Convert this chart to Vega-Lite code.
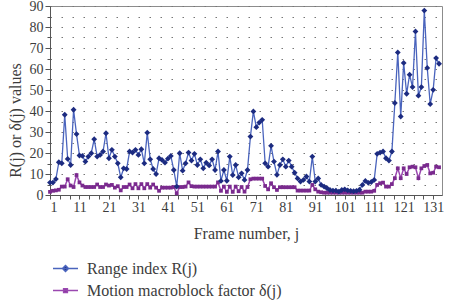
{
  "$schema": "https://vega.github.io/schema/vega-lite/v6.json",
  "width": 392,
  "height": 189,
  "autosize": {"type": "none"},
  "padding": {"left": 50, "top": 6, "right": 11, "bottom": 109},
  "background": "white",
  "config": {
    "font": "Liberation Serif",
    "view": {"stroke": "#8c8c8c", "strokeWidth": 1},
    "axis": {
      "labelFont": "Liberation Serif",
      "titleFont": "Liberation Serif",
      "labelColor": "#3c3c3c",
      "titleColor": "#3c3c3c",
      "domainColor": "#555555",
      "tickColor": "#555555",
      "labelFontSize": 14,
      "titleFontSize": 16,
      "titleFontWeight": "normal",
      "labelOverlap": false
    }
  },
  "data": {
    "values": [
      {"j": 1, "R": 5.9, "d": 1.5}, {"j": 2, "R": 5.9, "d": 2.0}, {"j": 3, "R": 7.6, "d": 2.2},
      {"j": 4, "R": 15.6, "d": 2.5}, {"j": 5, "R": 15.1, "d": 4.0}, {"j": 6, "R": 38.2, "d": 4.0},
      {"j": 7, "R": 17.2, "d": 7.5}, {"j": 8, "R": 14.3, "d": 4.5}, {"j": 9, "R": 40.6, "d": 3.8},
      {"j": 10, "R": 29.0, "d": 9.5}, {"j": 11, "R": 18.8, "d": 6.0}, {"j": 12, "R": 18.6, "d": 4.5},
      {"j": 13, "R": 15.9, "d": 3.8}, {"j": 14, "R": 18.3, "d": 3.8}, {"j": 15, "R": 19.9, "d": 3.8},
      {"j": 16, "R": 26.6, "d": 3.8}, {"j": 17, "R": 18.3, "d": 5.0}, {"j": 18, "R": 19.1, "d": 3.8},
      {"j": 19, "R": 20.7, "d": 3.8}, {"j": 20, "R": 29.4, "d": 5.0}, {"j": 21, "R": 17.5, "d": 4.5},
      {"j": 22, "R": 21.5, "d": 4.8}, {"j": 23, "R": 18.3, "d": 3.5}, {"j": 24, "R": 15.1, "d": 4.2},
      {"j": 25, "R": 8.4, "d": 2.2}, {"j": 26, "R": 12.7, "d": 3.8}, {"j": 27, "R": 12.4, "d": 3.8},
      {"j": 28, "R": 20.7, "d": 5.0}, {"j": 29, "R": 20.2, "d": 3.2}, {"j": 30, "R": 21.5, "d": 5.2},
      {"j": 31, "R": 19.1, "d": 3.2}, {"j": 32, "R": 21.8, "d": 5.2}, {"j": 33, "R": 15.1, "d": 3.2},
      {"j": 34, "R": 29.7, "d": 5.2}, {"j": 35, "R": 17.0, "d": 3.5}, {"j": 36, "R": 12.4, "d": 5.0},
      {"j": 37, "R": 10.0, "d": 3.5}, {"j": 38, "R": 17.5, "d": 2.0}, {"j": 39, "R": 16.7, "d": 3.5},
      {"j": 40, "R": 15.4, "d": 3.5}, {"j": 41, "R": 17.3, "d": 3.5}, {"j": 42, "R": 18.6, "d": 3.5},
      {"j": 43, "R": 11.9, "d": 3.8}, {"j": 44, "R": 4.0, "d": 0.8}, {"j": 45, "R": 19.9, "d": 3.8},
      {"j": 46, "R": 11.6, "d": 3.8}, {"j": 47, "R": 15.1, "d": 4.0}, {"j": 48, "R": 20.2, "d": 6.0},
      {"j": 49, "R": 16.4, "d": 4.2}, {"j": 50, "R": 19.6, "d": 4.0}, {"j": 51, "R": 14.3, "d": 4.0},
      {"j": 52, "R": 17.0, "d": 4.0}, {"j": 53, "R": 12.7, "d": 4.0}, {"j": 54, "R": 15.4, "d": 4.0},
      {"j": 55, "R": 14.1, "d": 4.0}, {"j": 56, "R": 17.0, "d": 4.0}, {"j": 57, "R": 11.9, "d": 4.0},
      {"j": 58, "R": 20.7, "d": 6.0}, {"j": 59, "R": 6.7, "d": 2.0}, {"j": 60, "R": 11.9, "d": 4.0},
      {"j": 61, "R": 6.8, "d": 1.5}, {"j": 62, "R": 18.3, "d": 4.0}, {"j": 63, "R": 9.5, "d": 1.5},
      {"j": 64, "R": 14.3, "d": 4.0}, {"j": 65, "R": 8.4, "d": 1.8}, {"j": 66, "R": 10.3, "d": 3.8},
      {"j": 67, "R": 7.2, "d": 1.6}, {"j": 68, "R": 11.9, "d": 3.8}, {"j": 69, "R": 27.8, "d": 7.5},
      {"j": 70, "R": 39.8, "d": 7.8}, {"j": 71, "R": 32.3, "d": 7.8}, {"j": 72, "R": 34.5, "d": 7.8},
      {"j": 73, "R": 35.8, "d": 7.8}, {"j": 74, "R": 15.1, "d": 4.3}, {"j": 75, "R": 13.5, "d": 2.7},
      {"j": 76, "R": 23.4, "d": 5.6}, {"j": 77, "R": 15.9, "d": 3.7}, {"j": 78, "R": 9.6, "d": 2.4},
      {"j": 79, "R": 14.3, "d": 3.7}, {"j": 80, "R": 17.0, "d": 3.7}, {"j": 81, "R": 13.5, "d": 3.7},
      {"j": 82, "R": 16.4, "d": 3.7}, {"j": 83, "R": 13.5, "d": 3.7}, {"j": 84, "R": 10.6, "d": 3.7},
      {"j": 85, "R": 7.9, "d": 2.1}, {"j": 86, "R": 6.4, "d": 2.1}, {"j": 87, "R": 7.2, "d": 2.1},
      {"j": 88, "R": 8.8, "d": 2.1}, {"j": 89, "R": 6.4, "d": 2.1}, {"j": 90, "R": 18.3, "d": 4.8},
      {"j": 91, "R": 6.4, "d": 2.7}, {"j": 92, "R": 7.9, "d": 1.6}, {"j": 93, "R": 4.8, "d": 1.3},
      {"j": 94, "R": 4.0, "d": 1.1}, {"j": 95, "R": 3.2, "d": 1.1}, {"j": 96, "R": 2.4, "d": 1.1},
      {"j": 97, "R": 2.1, "d": 1.1}, {"j": 98, "R": 2.1, "d": 1.1}, {"j": 99, "R": 1.6, "d": 1.1},
      {"j": 100, "R": 2.4, "d": 1.1}, {"j": 101, "R": 2.7, "d": 1.1}, {"j": 102, "R": 2.2, "d": 1.1},
      {"j": 103, "R": 2.0, "d": 1.1}, {"j": 104, "R": 1.8, "d": 1.1}, {"j": 105, "R": 2.0, "d": 1.1},
      {"j": 106, "R": 2.5, "d": 1.1}, {"j": 107, "R": 4.8, "d": 1.1}, {"j": 108, "R": 6.7, "d": 1.6},
      {"j": 109, "R": 5.8, "d": 1.6}, {"j": 110, "R": 6.2, "d": 1.6}, {"j": 111, "R": 7.2, "d": 2.0},
      {"j": 112, "R": 19.6, "d": 4.8}, {"j": 113, "R": 20.2, "d": 5.6}, {"j": 114, "R": 20.7, "d": 5.9},
      {"j": 115, "R": 17.5, "d": 4.0}, {"j": 116, "R": 16.4, "d": 4.0}, {"j": 117, "R": 20.7, "d": 5.2},
      {"j": 118, "R": 43.8, "d": 8.0}, {"j": 119, "R": 67.9, "d": 12.7}, {"j": 120, "R": 37.4, "d": 8.0},
      {"j": 121, "R": 62.9, "d": 12.7}, {"j": 122, "R": 48.2, "d": 10.0}, {"j": 123, "R": 57.3, "d": 13.2},
      {"j": 124, "R": 51.4, "d": 13.5}, {"j": 125, "R": 77.9, "d": 13.2}, {"j": 126, "R": 47.3, "d": 8.0},
      {"j": 127, "R": 51.4, "d": 12.7}, {"j": 128, "R": 87.8, "d": 13.8}, {"j": 129, "R": 60.5, "d": 14.3},
      {"j": 130, "R": 43.3, "d": 10.3}, {"j": 131, "R": 50.1, "d": 10.6}, {"j": 132, "R": 65.2, "d": 13.5},
      {"j": 133, "R": 62.5, "d": 13.2}
    ]
  },
  "transform": [{"fold": ["R", "d"], "as": ["series", "val"]}],
  "encoding": {
    "x": {
      "field": "j",
      "type": "quantitative",
      "scale": {"domain": [1, 134], "nice": false, "zero": false},
      "axis": {
        "title": "Frame number, j",
        "values": [1, 4.333, 7.667, 11, 14.333, 17.667, 21, 24.333, 27.667, 31, 34.333, 37.667, 41, 44.333, 47.667, 51, 54.333, 57.667, 61, 64.333, 67.667, 71, 74.333, 77.667, 81, 84.333, 87.667, 91, 94.333, 97.667, 101, 104.333, 107.667, 111, 114.333, 117.667, 121, 124.333, 127.667, 131],
        "labelExpr": "abs((datum.value - 1) % 10) < 0.01 ? format(datum.value, 'd') : ''",
        "grid": false,
        "tickSize": 4,
        "labelPadding": 1,
        "titlePadding": 11,
        "labelBound": false
      }
    },
    "y": {
      "field": "val",
      "type": "quantitative",
      "scale": {"domain": [0, 90], "nice": false},
      "axis": {
        "title": "R(j) or δ(j) values",
        "values": [0, 5, 10, 15, 20, 25, 30, 35, 40, 45, 50, 55, 60, 65, 70, 75, 80, 85, 90],
        "labelExpr": "datum.value % 10 === 0 ? datum.label : ''",
        "grid": true,
        "gridDash": [1.5, 9.5],
        "gridColor": "#777777",
        "gridWidth": 1,
        "tickSize": {"condition": {"test": "datum.value % 10 === 0", "value": 5}, "value": 3},
        "labelPadding": 2,
        "titleFontSize": 16,
        "titlePadding": 6,
        "titleY": 114
      }
    }
  },
  "layer": [
    {
      "transform": [{"filter": "datum.series === 'd'"}],
      "mark": {"type": "line", "strokeWidth": 1.5},
      "encoding": {
        "color": {
          "field": "series",
          "type": "nominal",
          "scale": {"domain": ["R", "d"], "range": ["#4a64bd", "#9a48b0"]},
          "legend": {
            "orient": "none",
            "legendX": 2,
            "legendY": 249,
            "direction": "vertical",
            "title": null,
            "labelExpr": "datum.value === 'R' ? 'Range index R(j)' : 'Motion macroblock factor δ(j)'",
            "labelFont": "Liberation Serif",
            "labelFontSize": 16,
            "labelColor": "#3c3c3c",
            "labelOffset": 8,
            "labelLimit": 400,
            "symbolType": "M-1,0H1",
            "symbolSize": 625,
            "symbolStrokeWidth": 1.5,
            "rowPadding": -3,
            "encode": {
              "symbols": {
                "update": {
                  "shape": {"signal": "datum.value === 'R' ? 'M-1,0H1M0,-0.24L0.24,0L0,0.24L-0.24,0Z' : 'M-1,0H1M-0.15,-0.15H0.15V0.15H-0.15Z'"},
                  "fill": {"signal": "datum.value === 'R' ? '#1c2b80' : '#7a2a8e'"},
                  "fillOpacity": {"value": 1},
                  "stroke": {"scale": "color", "field": "value"}
                }
              }
            }
          }
        }
      }
    },
    {
      "transform": [{"filter": "datum.series === 'd'"}],
      "mark": {"type": "point", "shape": "square", "filled": true, "opacity": 1, "size": 14, "color": "#7a2a8e"}
    },
    {
      "transform": [{"filter": "datum.series === 'R'"}],
      "mark": {"type": "line", "strokeWidth": 1.3},
      "encoding": {
        "color": {"field": "series", "type": "nominal", "scale": {"domain": ["R", "d"], "range": ["#4a64bd", "#9a48b0"]}}
      }
    },
    {
      "transform": [{"filter": "datum.series === 'R'"}],
      "mark": {"type": "point", "shape": "diamond", "filled": true, "opacity": 1, "size": 34, "color": "#1c2b80"}
    }
  ]
}
